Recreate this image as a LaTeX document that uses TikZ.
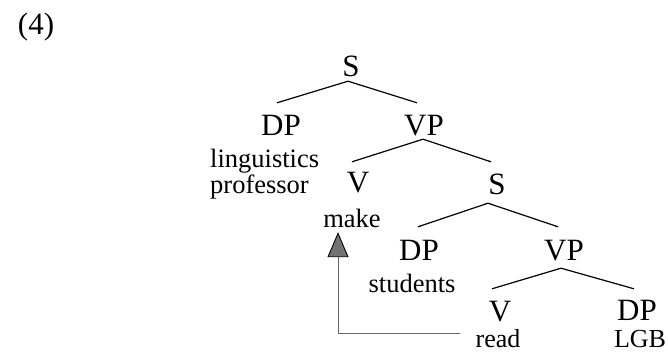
\documentclass[tikz,border=0pt]{standalone}
\usepackage{fontspec}
\setmainfont{Liberation Serif}
\usetikzlibrary{arrows.meta}
\begin{document}
\begin{tikzpicture}[x=1pt,y=-1pt,
  cat/.style={font=\fontsize{31}{31}\selectfont, inner sep=0pt, text height=20pt, text depth=0pt, anchor=base},
  word/.style={font=\fontsize{26.5}{27}\selectfont, inner sep=0pt, text height=18pt, text depth=6pt, anchor=base},
  lastword/.style={word, font=\fontsize{26}{26}\selectfont, text height=16pt, text depth=0pt},
  branch/.style={line width=1.2pt},
  movement/.style={draw=black!60, line width=0.9pt, -{Triangle[length=25pt,width=21pt,color=black,fill=black!55]}}]
\path[use as bounding box] (0,0) rectangle (668,352);
\node[cat] (ex) at (36,35) {(4)};
\node[cat] (s1) at (351,77) {S};
\node[cat] (dp1) at (281,136) {DP};
\node[cat] (vp1) at (424,136) {VP};
\node[word, anchor=base west] (ling) at (210,168) {linguistics};
\node[word, anchor=base west] (prof) at (210,194) {professor};
\node[cat] (v1) at (358,193) {V};
\node[cat] (s2) at (497,195) {S};
\node[word] (make) at (352,228) {make};
\node[cat] (dp2) at (419,261) {DP};
\node[cat] (vp2) at (564,261) {VP};
\node[word] (stud) at (412,292) {students};
\node[cat] (v2) at (500,321) {V};
\node[cat] (dp3) at (637,320) {DP};
\node[lastword] (read) at (498,347) {read};
\node[lastword] (lgb) at (640,347) {LGB};
\draw[branch] ([shift={(-4,-13)}]dp1.north) -- ([shift={(-3,4)}]s1.south) -- ([shift={(-7,-13)}]vp1.north);
\draw[branch] ([shift={(-6,-11)}]v1.north) -- ([shift={(-1,3)}]vp1.south) -- ([shift={(-6,-13)}]s2.north);
\draw[branch] ([shift={(-1,-14)}]dp2.north) -- ([shift={(-9,8)}]s2.south) -- ([shift={(-6,-14)}]vp2.north);
\draw[branch] ([shift={(-8,-12)}]v2.north) -- ([shift={(-3,7)}]vp2.south) -- ([shift={(-3,-11)}]dp3.north);
\draw[movement] ([shift={(-15,3)}]read.north west) -| ([shift={(-14,-2)}]make.south);
\end{tikzpicture}
\end{document}
